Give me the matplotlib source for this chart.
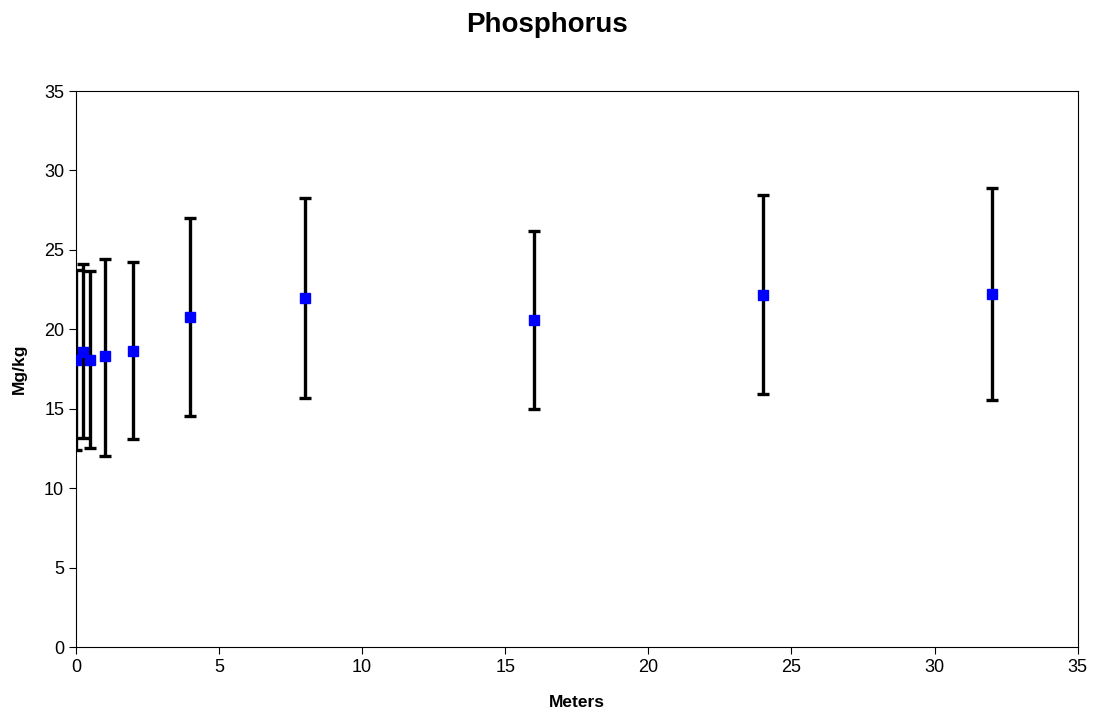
import matplotlib.pyplot as plt
import numpy as np

plt.rcParams['font.family'] = ['Liberation Sans', 'DejaVu Sans']

# data
meters = [0, 0.25, 0.5, 1, 2, 4, 8, 16, 24, 32]
mean = [18.05, 18.6, 18.05, 18.3, 18.65, 20.8, 21.95, 20.6, 22.15, 22.25]
upper = [23.75, 24.1, 23.65, 24.45, 24.25, 27.0, 28.25, 26.2, 28.45, 28.9]
lower = [12.4, 13.15, 12.5, 12.05, 13.1, 14.55, 15.7, 15.0, 15.9, 15.55]

mean = np.array(mean)
yerr = [mean - np.array(lower), np.array(upper) - mean]

fig = plt.figure(figsize=(10.93, 7.19), dpi=100)
ax = fig.add_axes([0.0695, 0.1001, 0.9165, 0.7733])

ax.errorbar(meters, mean, yerr=yerr, fmt='s', color='#0000ff', markersize=7,
            ecolor='black', elinewidth=2.4, capsize=4.5, capthick=2.4, zorder=3)

ax.set_xlim(0, 35)
ax.set_ylim(0, 35)
ax.set_xticks(np.arange(0, 36, 5))
ax.set_yticks(np.arange(0, 36, 5))
ax.tick_params(direction='out', length=5, labelsize=13, width=0.8)
for s in ax.spines.values():
    s.set_linewidth(0.8)

fig.text(0.5005, 1 - 25 / 719, 'Phosphorus', fontsize=20, fontweight='bold',
         ha='center', va='center')
ax.set_xlabel('Meters', fontsize=12.5, fontweight='bold', labelpad=14)
ax.set_ylabel('Mg/kg', fontsize=12.5, fontweight='bold', labelpad=12)

fig.savefig('out.png', dpi=100)
